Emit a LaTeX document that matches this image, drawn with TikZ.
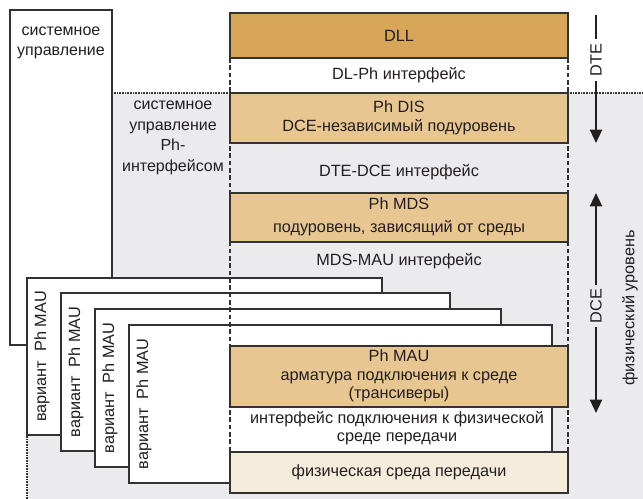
\documentclass[tikz,border=0pt]{standalone}
\usepackage{fontspec}
\setmainfont{Liberation Sans}
\usetikzlibrary{arrows.meta}

\definecolor{bggray}{RGB}{235,235,238}
\definecolor{dlltan}{RGB}{216,166,88}
\definecolor{phtan}{RGB}{232,198,146}
\definecolor{medtan}{RGB}{246,236,220}
\definecolor{linegray}{RGB}{50,50,50}
\definecolor{textblack}{RGB}{35,31,32}

\tikzset{
  layer/.style={draw=linegray,line width=0.8pt},
  ifline/.style={draw=linegray,line width=1.5pt,dash pattern=on 3.5pt off 2pt},
  dotline/.style={draw=linegray,line width=0.9pt,dash pattern=on 0.6pt off 0.6pt},
  systext/.style={align=center,font=\fontsize{12}{15.4}\selectfont},
  sideline/.style={draw=textblack,line width=1.7pt},
  sidearrow/.style={sideline,-{Triangle[length=10pt,width=9pt]}},
  sidelabel/.style={rotate=90,inner sep=3pt}
}

\begin{document}
\begin{tikzpicture}[x=0.75pt,y=-0.75pt,font=\fontsize{12.2}{14}\selectfont,text=textblack]
\useasboundingbox (0,0) rectangle (643,499);

% physical level
\fill[bggray] (27,93) rectangle (643,499);
\draw[dotline] (27,499) -- (27,93) -- (643,93);

% system control
\draw[layer,fill=white] (10,10) rectangle (112,345);
\node[systext] (sys) at (61,43) {системное\\управление};
\node[systext] (sysph) at (173,138) {системное\\управление\\Ph-\\интерфейсом};

% MAU variants
\foreach \l/\t/\r/\b [count=\i] in {27/278/382/435, 61/293/450/451, 95/309/501/467, 129/325/552/483} {
  \draw[layer,fill=white] (\l,\t) rectangle (\r,\b);
  \node[rotate=90] (var\i) at (\l+15,{(\t+\b)/2}) {вариант\ \ Ph MAU};
}

% interface borders
\draw[ifline] (230,58) -- (230,493);
\draw[ifline] (568,58) -- (568,493);

% sublayers
\draw[layer,fill=dlltan] (230,13) rectangle (568,58);
\node (dll) at (399,35.5) {DLL};
\node (dlph) at (399,75) {DL-Ph интерфейс};

\draw[layer,fill=phtan] (230,93) rectangle (568,143);
\node[align=center] (phdis) at (399,118) {Ph DIS\\DCE-независимый подуровень};

\node (dtedce) at (399,172) {DTE-DCE интерфейс};

\draw[layer,fill=phtan] (230,193) rectangle (568,242);
\node[align=center] (phmds) at (399,217) {Ph MDS\\[3pt]подуровень, зависящий от среды};

\node (mdsmau) at (399,261) {MDS-MAU интерфейс};

\draw[layer,fill=phtan] (230,346) rectangle (568,407);
\node[align=center] (phmau) at (399,376) {Ph MAU\\арматура подключения к среде\\(трансиверы)};

\node[align=center] (mauif) at (397,428) {интерфейс подключения к физической\\среде передачи};

\draw[layer,fill=medtan] (230,452) rectangle (568,493);
\node (medium) at (399,472) {физическая среда передачи};

% DTE / DCE
\node[sidelabel] (dte) at (596,60) {DTE};
\coordinate (dtetop) at (596,15);
\coordinate (dtebot) at (596,143);
\draw[sideline] (dtetop) -- (dte);
\draw[sidearrow] (dte) -- (dtebot);

\node[sidelabel] (dce) at (596,306) {DCE};
\coordinate (dcetop) at (596,193);
\coordinate (dcebot) at (596,413);
\draw[sidearrow] (dce) -- (dcetop);
\draw[sidearrow] (dce) -- (dcebot);

\node[rotate=90] (phys) at (630,308) {физический уровень};

\end{tikzpicture}
\end{document}
